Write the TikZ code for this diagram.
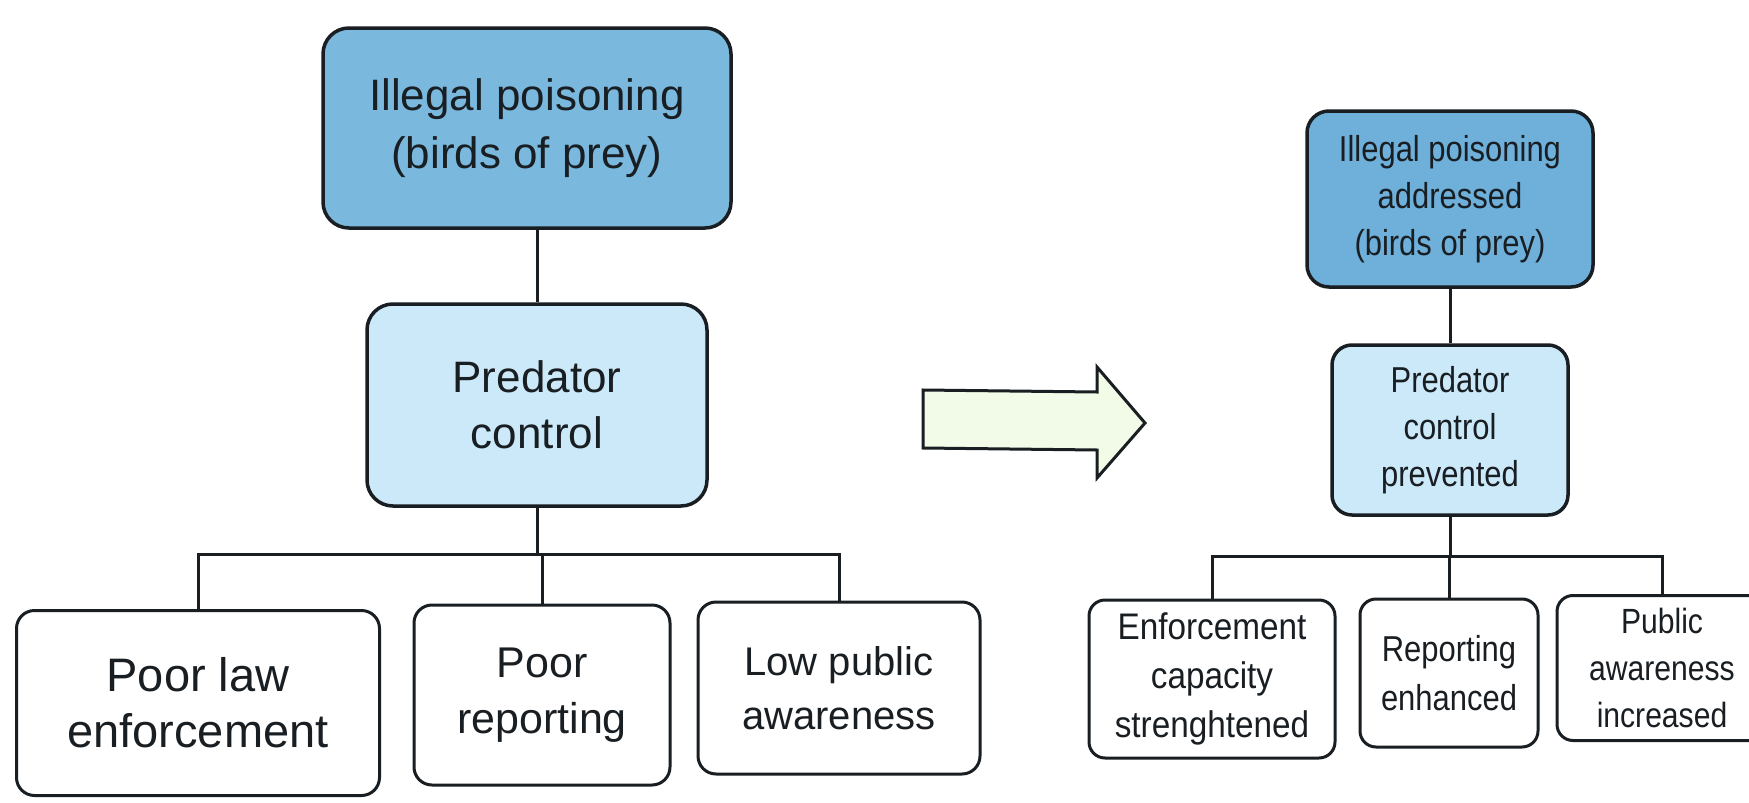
\documentclass[tikz,border=0pt]{standalone}
\usepackage{fontspec}
\setmainfont{Liberation Sans}
\newfontfamily\narrowfont[FakeStretch=0.86]{Liberation Sans}
\newfontfamily\narrowfontb[FakeStretch=0.9]{Liberation Sans}
\definecolor{topblue}{RGB}{122,184,222}
\definecolor{topblueR}{RGB}{110,176,218}
\definecolor{lightblue}{RGB}{204,233,249}
\definecolor{palegreen}{RGB}{242,251,232}
\definecolor{ink}{RGB}{25,30,35}
\tikzset{
  box/.style={draw=ink, line width=3.5pt, rounded corners=26pt, align=center, text=ink, inner sep=0pt},
  topbox/.style={box, fill=topblue},
  topboxR/.style={box, fill=topblueR, rounded corners=22pt},
  midbox/.style={box, fill=lightblue},
  midboxR/.style={box, fill=lightblue, rounded corners=20pt},
  leafbox/.style={box, fill=white, rounded corners=18pt, line width=3pt},
  leafboxR/.style={box, fill=white, rounded corners=16pt, line width=3pt},
  conn/.style={draw=ink, line width=3pt},
}
\begin{document}
\begin{tikzpicture}[x=1pt,y=-1pt]
\useasboundingbox (0,0) rectangle (1749,803);
\fill[white] (0,0) rectangle (1749,803);
\clip (0,0) rectangle (1749,803);

% left tree
\node[topbox, minimum width=408pt, minimum height=200pt,
      font=\fontsize{44}{58}\selectfont] (t1) at (527,128) {Illegal poisoning\\(birds of prey)};
\node[midbox, minimum width=340pt, minimum height=202pt,
      font=\fontsize{44}{56}\selectfont] (p1) at (537,405) {Predator\\control};
\node[leafbox, minimum width=363pt, minimum height=185pt,
      font=\fontsize{47}{56}\selectfont] (c1) at (198,703) {Poor law\\enforcement};
\node[leafbox, minimum width=256pt, minimum height=180pt,
      font=\fontsize{43}{56}\selectfont] (c2) at (542,695) {Poor\\reporting};
\node[leafbox, minimum width=282pt, minimum height=172pt,
      font=\fontsize{40}{54}\selectfont] (c3) at (839,688) {Low public\\awareness};
\coordinate (b1) at (540,554);

\draw[conn] (p1.north |- t1.south) -- (p1.north);
\draw[conn] (p1.south) -- (p1.south |- b1);
\draw[conn] (c1.north) -- (c1.north |- b1) -- (c3.north |- b1) -- (c3.north);
\draw[conn] (c2.north) -- (c2.north |- b1);

% big arrow
\draw[draw=ink, line width=3pt, fill=palegreen, line join=miter]
  (923,390) -- (1097,392) -- (1097,367) -- (1145,423) -- (1097,478) -- (1097,450) -- (923,448) -- cycle;

% right tree
\node[topboxR, minimum width=286pt, minimum height=176pt,
      font=\narrowfont\fontsize{36}{47}\selectfont] (t2) at (1450,199) {Illegal poisoning\\addressed\\(birds of prey)};
\node[midboxR, minimum width=236pt, minimum height=170pt,
      font=\narrowfont\fontsize{36}{47}\selectfont] (p2) at (1450,430) {Predator\\control\\prevented};
\node[leafboxR, minimum width=246pt, minimum height=158pt,
      font=\narrowfontb\fontsize{37}{49}\selectfont] (c4) at (1212,679) {Enforcement\\capacity\\strenghtened};
\node[leafboxR, minimum width=178pt, minimum height=148pt,
      font=\narrowfont\fontsize{36}{49}\selectfont] (c5) at (1449,673) {Reporting\\enhanced};
\node[leafboxR, minimum width=210pt, minimum height=145pt,
      font=\narrowfont\fontsize{35}{47}\selectfont] (c6) at (1662,668) {Public\\awareness\\increased};
\coordinate (b2) at (1452,556);

\draw[conn] (t2.south) -- (p2.north);
\draw[conn] (p2.south) -- (p2.south |- b2);
\draw[conn] (c4.north) -- (c4.north |- b2) -- (c6.north |- b2) -- (c6.north);
\draw[conn] (c5.north) -- (c5.north |- b2);
\end{tikzpicture}
\end{document}
